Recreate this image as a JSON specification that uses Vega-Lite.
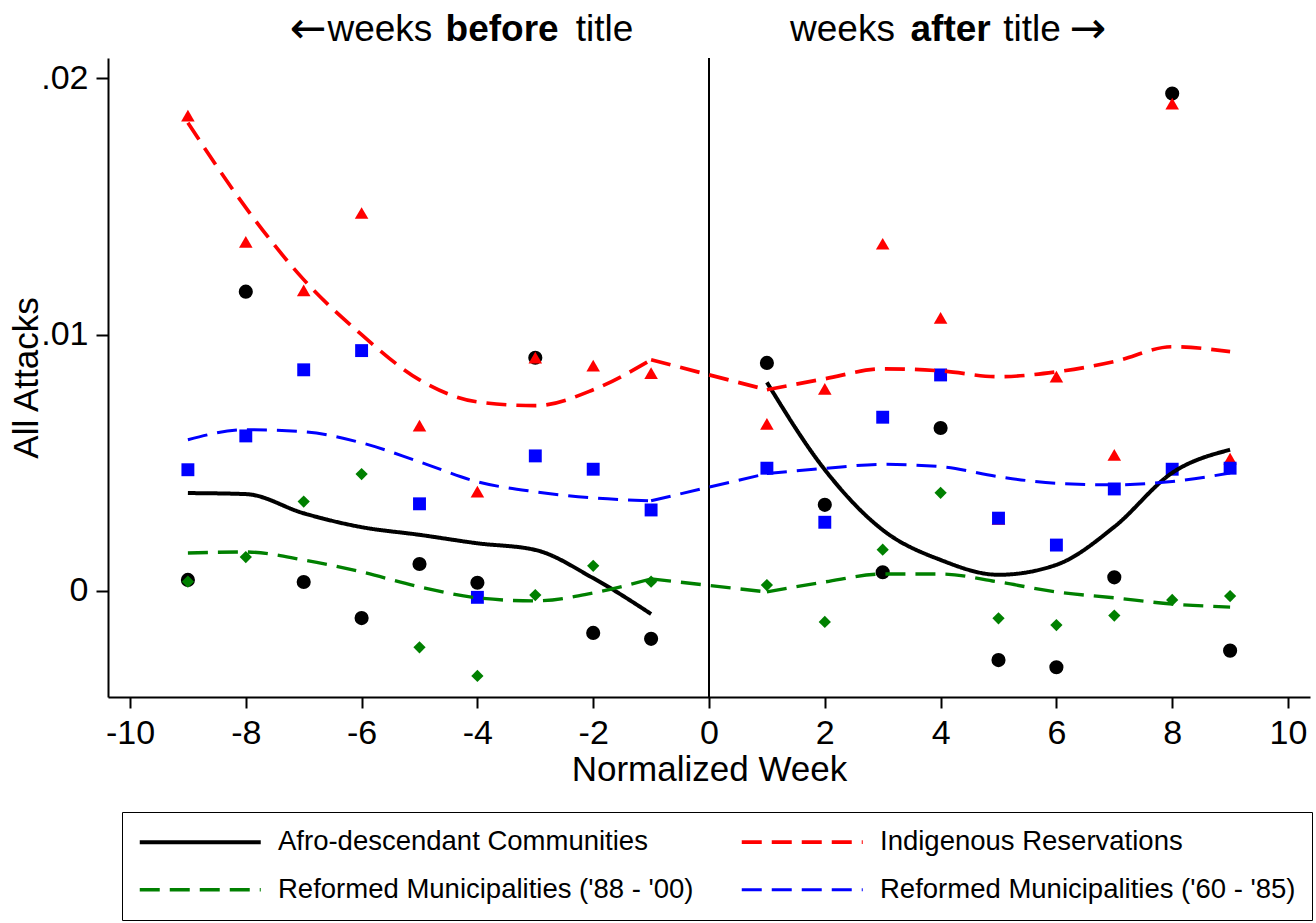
{
  "$schema": "https://vega.github.io/schema/vega-lite/v6.json",
  "width": 1202,
  "height": 639,
  "autosize": {"type": "none"},
  "padding": {"left": 108, "top": 58, "right": 6, "bottom": 226},
  "background": "white",
  "config": {
    "view": {"stroke": null},
    "font": "Liberation Sans",
    "axis": {
      "grid": false,
      "domainColor": "black",
      "domainWidth": 2,
      "tickColor": "black",
      "tickWidth": 2,
      "tickSize": 11,
      "labelColor": "black",
      "titleColor": "black",
      "labelFont": "Liberation Sans",
      "titleFont": "Liberation Sans",
      "labelFontSize": 34,
      "titleFontSize": 35,
      "titleFontWeight": "normal"
    }
  },
  "datasets": {
    "obs": [
      {"week": -9, "series": "Afro-descendant Communities", "value": 0.00043},
      {"week": -8, "series": "Afro-descendant Communities", "value": 0.01168},
      {"week": -7, "series": "Afro-descendant Communities", "value": 0.00035},
      {"week": -6, "series": "Afro-descendant Communities", "value": -0.00106},
      {"week": -5, "series": "Afro-descendant Communities", "value": 0.00105},
      {"week": -4, "series": "Afro-descendant Communities", "value": 0.00032},
      {"week": -3, "series": "Afro-descendant Communities", "value": 0.0091},
      {"week": -2, "series": "Afro-descendant Communities", "value": -0.00164},
      {"week": -1, "series": "Afro-descendant Communities", "value": -0.00187},
      {"week": 1, "series": "Afro-descendant Communities", "value": 0.0089},
      {"week": 2, "series": "Afro-descendant Communities", "value": 0.00336},
      {"week": 3, "series": "Afro-descendant Communities", "value": 0.00073},
      {"week": 4, "series": "Afro-descendant Communities", "value": 0.00636},
      {"week": 5, "series": "Afro-descendant Communities", "value": -0.0027},
      {"week": 6, "series": "Afro-descendant Communities", "value": -0.00298},
      {"week": 7, "series": "Afro-descendant Communities", "value": 0.00053},
      {"week": 8, "series": "Afro-descendant Communities", "value": 0.01941},
      {"week": 9, "series": "Afro-descendant Communities", "value": -0.00233},

      {"week": -9, "series": "Indigenous Reservations", "value": 0.01855},
      {"week": -8, "series": "Indigenous Reservations", "value": 0.01362},
      {"week": -7, "series": "Indigenous Reservations", "value": 0.01173},
      {"week": -6, "series": "Indigenous Reservations", "value": 0.01475},
      {"week": -5, "series": "Indigenous Reservations", "value": 0.00645},
      {"week": -4, "series": "Indigenous Reservations", "value": 0.00388},
      {"week": -3, "series": "Indigenous Reservations", "value": 0.00911},
      {"week": -2, "series": "Indigenous Reservations", "value": 0.00879},
      {"week": -1, "series": "Indigenous Reservations", "value": 0.0085},
      {"week": 1, "series": "Indigenous Reservations", "value": 0.00652},
      {"week": 2, "series": "Indigenous Reservations", "value": 0.00789},
      {"week": 3, "series": "Indigenous Reservations", "value": 0.01355},
      {"week": 4, "series": "Indigenous Reservations", "value": 0.01066},
      {"week": 5, "series": "Indigenous Reservations", "value": 0.00281},
      {"week": 6, "series": "Indigenous Reservations", "value": 0.00836},
      {"week": 7, "series": "Indigenous Reservations", "value": 0.00531},
      {"week": 8, "series": "Indigenous Reservations", "value": 0.01902},
      {"week": 9, "series": "Indigenous Reservations", "value": 0.00516},

      {"week": -9, "series": "Reformed Municipalities ('88 - '00)", "value": 0.00036},
      {"week": -8, "series": "Reformed Municipalities ('88 - '00)", "value": 0.00132},
      {"week": -7, "series": "Reformed Municipalities ('88 - '00)", "value": 0.00349},
      {"week": -6, "series": "Reformed Municipalities ('88 - '00)", "value": 0.00456},
      {"week": -5, "series": "Reformed Municipalities ('88 - '00)", "value": -0.0022},
      {"week": -4, "series": "Reformed Municipalities ('88 - '00)", "value": -0.00332},
      {"week": -3, "series": "Reformed Municipalities ('88 - '00)", "value": -0.00016},
      {"week": -2, "series": "Reformed Municipalities ('88 - '00)", "value": 0.00098},
      {"week": -1, "series": "Reformed Municipalities ('88 - '00)", "value": 0.00036},
      {"week": 1, "series": "Reformed Municipalities ('88 - '00)", "value": 0.00023},
      {"week": 2, "series": "Reformed Municipalities ('88 - '00)", "value": -0.00121},
      {"week": 3, "series": "Reformed Municipalities ('88 - '00)", "value": 0.00161},
      {"week": 4, "series": "Reformed Municipalities ('88 - '00)", "value": 0.00383},
      {"week": 5, "series": "Reformed Municipalities ('88 - '00)", "value": -0.00107},
      {"week": 6, "series": "Reformed Municipalities ('88 - '00)", "value": -0.00133},
      {"week": 7, "series": "Reformed Municipalities ('88 - '00)", "value": -0.00096},
      {"week": 8, "series": "Reformed Municipalities ('88 - '00)", "value": -0.00035},
      {"week": 9, "series": "Reformed Municipalities ('88 - '00)", "value": -0.0002},

      {"week": -9, "series": "Reformed Municipalities ('60 - '85)", "value": 0.00473},
      {"week": -8, "series": "Reformed Municipalities ('60 - '85)", "value": 0.00605},
      {"week": -7, "series": "Reformed Municipalities ('60 - '85)", "value": 0.00863},
      {"week": -6, "series": "Reformed Municipalities ('60 - '85)", "value": 0.00938},
      {"week": -5, "series": "Reformed Municipalities ('60 - '85)", "value": 0.0034},
      {"week": -4, "series": "Reformed Municipalities ('60 - '85)", "value": -0.00025},
      {"week": -3, "series": "Reformed Municipalities ('60 - '85)", "value": 0.00527},
      {"week": -2, "series": "Reformed Municipalities ('60 - '85)", "value": 0.00475},
      {"week": -1, "series": "Reformed Municipalities ('60 - '85)", "value": 0.00316},
      {"week": 1, "series": "Reformed Municipalities ('60 - '85)", "value": 0.00479},
      {"week": 2, "series": "Reformed Municipalities ('60 - '85)", "value": 0.00268},
      {"week": 3, "series": "Reformed Municipalities ('60 - '85)", "value": 0.00678},
      {"week": 4, "series": "Reformed Municipalities ('60 - '85)", "value": 0.00843},
      {"week": 5, "series": "Reformed Municipalities ('60 - '85)", "value": 0.00284},
      {"week": 6, "series": "Reformed Municipalities ('60 - '85)", "value": 0.00179},
      {"week": 7, "series": "Reformed Municipalities ('60 - '85)", "value": 0.00398},
      {"week": 8, "series": "Reformed Municipalities ('60 - '85)", "value": 0.00475},
      {"week": 9, "series": "Reformed Municipalities ('60 - '85)", "value": 0.00479}
    ],
    "fits": [
      {"week": -9, "series": "Afro-descendant Communities", "seg": "before", "fit": 0.00382},
      {"week": -8, "series": "Afro-descendant Communities", "seg": "before", "fit": 0.00378},
      {"week": -7, "series": "Afro-descendant Communities", "seg": "before", "fit": 0.00303},
      {"week": -6, "series": "Afro-descendant Communities", "seg": "before", "fit": 0.00249},
      {"week": -5, "series": "Afro-descendant Communities", "seg": "before", "fit": 0.00219},
      {"week": -4, "series": "Afro-descendant Communities", "seg": "before", "fit": 0.00186},
      {"week": -3, "series": "Afro-descendant Communities", "seg": "before", "fit": 0.0016},
      {"week": -2, "series": "Afro-descendant Communities", "seg": "before", "fit": 0.0005},
      {"week": -1, "series": "Afro-descendant Communities", "seg": "before", "fit": -0.0009},
      {"week": 1, "series": "Afro-descendant Communities", "seg": "after", "fit": 0.00814},
      {"week": 2, "series": "Afro-descendant Communities", "seg": "after", "fit": 0.00473},
      {"week": 3, "series": "Afro-descendant Communities", "seg": "after", "fit": 0.00238},
      {"week": 4, "series": "Afro-descendant Communities", "seg": "after", "fit": 0.00121},
      {"week": 5, "series": "Afro-descendant Communities", "seg": "after", "fit": 0.00063},
      {"week": 6, "series": "Afro-descendant Communities", "seg": "after", "fit": 0.00102},
      {"week": 7, "series": "Afro-descendant Communities", "seg": "after", "fit": 0.0025},
      {"week": 8, "series": "Afro-descendant Communities", "seg": "after", "fit": 0.00461},
      {"week": 9, "series": "Afro-descendant Communities", "seg": "after", "fit": 0.00551},

      {"week": -9, "series": "Indigenous Reservations", "seg": "before", "fit": 0.01827},
      {"week": -8, "series": "Indigenous Reservations", "seg": "before", "fit": 0.01496},
      {"week": -7, "series": "Indigenous Reservations", "seg": "before", "fit": 0.01215},
      {"week": -6, "series": "Indigenous Reservations", "seg": "before", "fit": 0.01},
      {"week": -5, "series": "Indigenous Reservations", "seg": "before", "fit": 0.00824},
      {"week": -4, "series": "Indigenous Reservations", "seg": "before", "fit": 0.00738},
      {"week": -3, "series": "Indigenous Reservations", "seg": "before", "fit": 0.00723},
      {"week": -2, "series": "Indigenous Reservations", "seg": "before", "fit": 0.00785},
      {"week": -1, "series": "Indigenous Reservations", "seg": "before", "fit": 0.00902},
      {"week": -1, "series": "Indigenous Reservations", "seg": "gap", "fit": 0.00902},
      {"week": 1, "series": "Indigenous Reservations", "seg": "gap", "fit": 0.00785},
      {"week": 1, "series": "Indigenous Reservations", "seg": "after", "fit": 0.00785},
      {"week": 2, "series": "Indigenous Reservations", "seg": "after", "fit": 0.00828},
      {"week": 3, "series": "Indigenous Reservations", "seg": "after", "fit": 0.00867},
      {"week": 4, "series": "Indigenous Reservations", "seg": "after", "fit": 0.00859},
      {"week": 5, "series": "Indigenous Reservations", "seg": "after", "fit": 0.00836},
      {"week": 6, "series": "Indigenous Reservations", "seg": "after", "fit": 0.00855},
      {"week": 7, "series": "Indigenous Reservations", "seg": "after", "fit": 0.00895},
      {"week": 8, "series": "Indigenous Reservations", "seg": "after", "fit": 0.00953},
      {"week": 9, "series": "Indigenous Reservations", "seg": "after", "fit": 0.00934},

      {"week": -9, "series": "Reformed Municipalities ('88 - '00)", "seg": "before", "fit": 0.00148},
      {"week": -8, "series": "Reformed Municipalities ('88 - '00)", "seg": "before", "fit": 0.00152},
      {"week": -7, "series": "Reformed Municipalities ('88 - '00)", "seg": "before", "fit": 0.00121},
      {"week": -6, "series": "Reformed Municipalities ('88 - '00)", "seg": "before", "fit": 0.00074},
      {"week": -5, "series": "Reformed Municipalities ('88 - '00)", "seg": "before", "fit": 0.00016},
      {"week": -4, "series": "Reformed Municipalities ('88 - '00)", "seg": "before", "fit": -0.00027},
      {"week": -3, "series": "Reformed Municipalities ('88 - '00)", "seg": "before", "fit": -0.00039},
      {"week": -2, "series": "Reformed Municipalities ('88 - '00)", "seg": "before", "fit": -0.00008},
      {"week": -1, "series": "Reformed Municipalities ('88 - '00)", "seg": "before", "fit": 0.00047},
      {"week": -1, "series": "Reformed Municipalities ('88 - '00)", "seg": "gap", "fit": 0.00047},
      {"week": 1, "series": "Reformed Municipalities ('88 - '00)", "seg": "gap", "fit": -0.00004},
      {"week": 1, "series": "Reformed Municipalities ('88 - '00)", "seg": "after", "fit": -0.00004},
      {"week": 2, "series": "Reformed Municipalities ('88 - '00)", "seg": "after", "fit": 0.00035},
      {"week": 3, "series": "Reformed Municipalities ('88 - '00)", "seg": "after", "fit": 0.00066},
      {"week": 4, "series": "Reformed Municipalities ('88 - '00)", "seg": "after", "fit": 0.00066},
      {"week": 5, "series": "Reformed Municipalities ('88 - '00)", "seg": "after", "fit": 0.00035},
      {"week": 6, "series": "Reformed Municipalities ('88 - '00)", "seg": "after", "fit": -0.00004},
      {"week": 7, "series": "Reformed Municipalities ('88 - '00)", "seg": "after", "fit": -0.00027},
      {"week": 8, "series": "Reformed Municipalities ('88 - '00)", "seg": "after", "fit": -0.00051},
      {"week": 9, "series": "Reformed Municipalities ('88 - '00)", "seg": "after", "fit": -0.00063},

      {"week": -9, "series": "Reformed Municipalities ('60 - '85)", "seg": "before", "fit": 0.0059},
      {"week": -8, "series": "Reformed Municipalities ('60 - '85)", "seg": "before", "fit": 0.00629},
      {"week": -7, "series": "Reformed Municipalities ('60 - '85)", "seg": "before", "fit": 0.00621},
      {"week": -6, "series": "Reformed Municipalities ('60 - '85)", "seg": "before", "fit": 0.00578},
      {"week": -5, "series": "Reformed Municipalities ('60 - '85)", "seg": "before", "fit": 0.00504},
      {"week": -4, "series": "Reformed Municipalities ('60 - '85)", "seg": "before", "fit": 0.00426},
      {"week": -3, "series": "Reformed Municipalities ('60 - '85)", "seg": "before", "fit": 0.00387},
      {"week": -2, "series": "Reformed Municipalities ('60 - '85)", "seg": "before", "fit": 0.00363},
      {"week": -1, "series": "Reformed Municipalities ('60 - '85)", "seg": "before", "fit": 0.00352},
      {"week": -1, "series": "Reformed Municipalities ('60 - '85)", "seg": "gap", "fit": 0.00352},
      {"week": 1, "series": "Reformed Municipalities ('60 - '85)", "seg": "gap", "fit": 0.00458},
      {"week": 1, "series": "Reformed Municipalities ('60 - '85)", "seg": "after", "fit": 0.00458},
      {"week": 2, "series": "Reformed Municipalities ('60 - '85)", "seg": "after", "fit": 0.00478},
      {"week": 3, "series": "Reformed Municipalities ('60 - '85)", "seg": "after", "fit": 0.00494},
      {"week": 4, "series": "Reformed Municipalities ('60 - '85)", "seg": "after", "fit": 0.00485},
      {"week": 5, "series": "Reformed Municipalities ('60 - '85)", "seg": "after", "fit": 0.00446},
      {"week": 6, "series": "Reformed Municipalities ('60 - '85)", "seg": "after", "fit": 0.0042},
      {"week": 7, "series": "Reformed Municipalities ('60 - '85)", "seg": "after", "fit": 0.00414},
      {"week": 8, "series": "Reformed Municipalities ('60 - '85)", "seg": "after", "fit": 0.00427},
      {"week": 9, "series": "Reformed Municipalities ('60 - '85)", "seg": "after", "fit": 0.0046}
    ],
    "headers": [
      {"week": -7.24, "value": 0.0219, "label": "←", "kind": "arrow"},
      {"week": -6.59, "value": 0.0219, "label": "weeks", "kind": "normal"},
      {"week": -4.55, "value": 0.0219, "label": "before", "kind": "bold"},
      {"week": -2.3, "value": 0.0219, "label": "title", "kind": "normal"},
      {"week": 1.4, "value": 0.0219, "label": "weeks", "kind": "normal"},
      {"week": 3.48, "value": 0.0219, "label": "after", "kind": "bold"},
      {"week": 5.08, "value": 0.0219, "label": "title", "kind": "normal"},
      {"week": 6.22, "value": 0.0219, "label": "→", "kind": "arrow"}
    ]
  },
  "encoding": {
    "x": {
      "field": "week",
      "type": "quantitative",
      "scale": {"domain": [-10.38, 10.38], "nice": false, "zero": false},
      "axis": {
        "title": "Normalized Week",
        "values": [-10, -8, -6, -4, -2, 0, 2, 4, 6, 8, 10],
        "labelExpr": "'' + datum.value",
        "labelPadding": 8,
        "titlePadding": 2,
        "labelFlush": false
      }
    }
  },
  "layer": [
    {
      "data": {"values": [{"week": 0}]},
      "mark": {"type": "rule", "color": "black", "strokeWidth": 2},
      "encoding": {}
    },
    {
      "data": {"name": "obs"},
      "mark": {"type": "point", "filled": true, "opacity": 1, "strokeWidth": 0},
      "encoding": {
        "y": {
          "field": "value",
          "type": "quantitative",
          "scale": {"domain": [-0.00414, 0.0208], "nice": false, "zero": false},
          "axis": {
            "title": "All Attacks",
            "values": [0, 0.01, 0.02],
            "labelExpr": "datum.value == 0 ? '0' : slice(format(datum.value, '.2f'), 1)",
            "labelAngle": 0,
            "labelPadding": 8,
            "titlePadding": -4,
            "tickSize": 12
          }
        },
        "fill": {
          "field": "series",
          "type": "nominal",
          "legend": null,
          "scale": {
            "domain": ["Afro-descendant Communities", "Indigenous Reservations", "Reformed Municipalities ('60 - '85)", "Reformed Municipalities ('88 - '00)"],
            "range": ["#000000", "#ff0000", "#0000ff", "#008000"]
          }
        },
        "shape": {
          "field": "series",
          "type": "nominal",
          "legend": null,
          "scale": {
            "domain": ["Afro-descendant Communities", "Indigenous Reservations", "Reformed Municipalities ('60 - '85)", "Reformed Municipalities ('88 - '00)"],
            "range": ["circle", "triangle-up", "square", "diamond"]
          }
        },
        "size": {
          "field": "series",
          "type": "nominal",
          "legend": null,
          "scale": {
            "domain": ["Afro-descendant Communities", "Indigenous Reservations", "Reformed Municipalities ('60 - '85)", "Reformed Municipalities ('88 - '00)"],
            "range": [200, 150, 81, 120]
          }
        }
      }
    },
    {
      "data": {"name": "fits"},
      "mark": {"type": "line", "interpolate": "monotone"},
      "encoding": {
        "y": {"field": "fit", "type": "quantitative"},
        "detail": {"field": "seg", "type": "nominal"},
        "color": {
          "field": "series",
          "type": "nominal",
          "scale": {
            "domain": ["Afro-descendant Communities", "Indigenous Reservations", "Reformed Municipalities ('88 - '00)", "Reformed Municipalities ('60 - '85)"],
            "range": ["#000000", "#ff0000", "#008000", "#0000ff"]
          },
          "legend": {
            "title": null,
            "orient": "none",
            "legendX": 14,
            "legendY": 754,
            "direction": "horizontal",
            "columns": 2,
            "symbolType": "M-6.05,0H6.05",
            "symbolSize": 400,
            "symbolOffset": 48.5,
            "labelFont": "Liberation Sans",
            "labelFontSize": 27.5,
            "labelColor": "black",
            "labelLimit": 700,
            "labelOffset": 64,
            "columnPadding": 40,
            "rowPadding": 19,
            "padding": 16,
            "strokeColor": "black",
            "fillColor": "white"
          }
        },
        "strokeDash": {
          "field": "series",
          "type": "nominal",
          "legend": {"title": null},
          "scale": {
            "domain": ["Afro-descendant Communities", "Indigenous Reservations", "Reformed Municipalities ('88 - '00)", "Reformed Municipalities ('60 - '85)"],
            "range": [[1, 0], [20, 10], [20, 10], [20, 10]]
          }
        },
        "strokeWidth": {
          "field": "series",
          "type": "nominal",
          "legend": {"title": null},
          "scale": {
            "domain": ["Afro-descendant Communities", "Indigenous Reservations", "Reformed Municipalities ('88 - '00)", "Reformed Municipalities ('60 - '85)"],
            "range": [4, 3, 3, 3]
          }
        }
      }
    },
    {
      "data": {"name": "headers"},
      "transform": [{"filter": "datum.kind == 'normal'"}],
      "mark": {"type": "text", "align": "left", "baseline": "middle", "fontSize": 37, "font": "Liberation Sans", "color": "black"},
      "encoding": {
        "y": {"field": "value", "type": "quantitative"},
        "text": {"field": "label"}
      }
    },
    {
      "data": {"name": "headers"},
      "transform": [{"filter": "datum.kind == 'bold'"}],
      "mark": {"type": "text", "align": "left", "baseline": "middle", "fontSize": 37, "fontWeight": "bold", "font": "Liberation Sans", "color": "black"},
      "encoding": {
        "y": {"field": "value", "type": "quantitative"},
        "text": {"field": "label"}
      }
    },
    {
      "data": {"name": "headers"},
      "transform": [{"filter": "datum.kind == 'arrow'"}],
      "mark": {"type": "text", "align": "left", "baseline": "middle", "fontSize": 44, "font": "DejaVu Sans", "color": "black"},
      "encoding": {
        "y": {"field": "value", "type": "quantitative"},
        "text": {"field": "label"}
      }
    }
  ]
}
